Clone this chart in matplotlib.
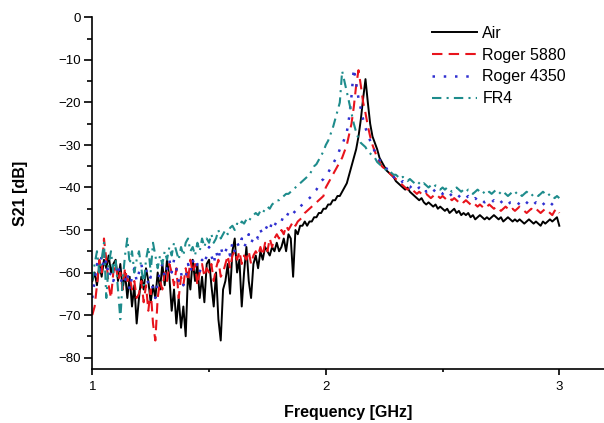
import numpy as np
import matplotlib
matplotlib.use('Agg')
import matplotlib.pyplot as plt
from matplotlib.ticker import MultipleLocator

plt.rcParams['font.family'] = ['Liberation Sans', 'DejaVu Sans']

# frequency grid (GHz), 0.01 step from 1.00 to 3.00
freq = np.round(np.arange(100, 301) / 100.0, 2)

s21_air = [
    -62, -60, -63, -58, -61, -57, -59, -56, -60, -58,
    -57, -62, -58, -64, -60, -66, -61, -68, -63, -72,
    -66, -61, -64, -59, -62, -67, -63, -66, -60, -64,
    -58, -63, -57, -61, -69, -64, -72, -66, -73, -68,
    -75, -60, -64, -57, -62, -58, -66, -61, -67, -58,
    -57, -63, -68, -60, -71, -76, -64, -62, -58, -65,
    -55, -52, -60, -57, -68, -60, -54, -62, -66, -58,
    -56, -59, -55, -57, -54, -55, -56, -54, -55, -53,
    -55, -54, -52, -55, -51, -52, -61, -50, -51, -49,
    -49, -48, -49, -48, -48, -47, -47, -46, -46, -45,
    -45, -44, -44, -43, -43, -42, -42, -41, -40, -39,
    -37, -35, -33, -31, -28, -24, -19, -14.5, -20, -25,
    -28, -29.5, -31, -33, -34, -35, -36, -36.5, -37, -37.5,
    -38.5, -39, -39.5, -40, -40.5, -40, -41, -41.5, -42, -42.5,
    -43, -42.5, -43.5, -44, -43.5, -44, -44.5, -44, -45, -44.5,
    -45, -45.5, -45, -46, -45.5, -45, -46, -45.5, -46.5, -46,
    -46.5, -46, -47, -46.5, -47.5, -47, -46.5, -47, -47.5, -47,
    -47.5, -47, -46.5, -47, -47.5, -47, -48, -47.5, -47, -47.5,
    -48, -47.5, -48, -47.5, -48, -48.5, -48, -47.5, -48, -48.5,
    -48, -48.5, -49, -48, -48.5, -48, -47.5, -48, -47.5, -47,
    -49,
]

s21_r5880 = [
    -70, -68, -63, -57, -60, -52, -57, -63, -66, -60,
    -58, -62, -60, -64, -59, -62, -61, -64, -62, -66,
    -65, -62, -67, -63, -69, -64, -72, -76, -66, -62,
    -64, -60, -62, -58, -60, -63, -59, -66, -61, -63,
    -59, -62, -57, -60, -58, -63, -60, -58, -61, -59,
    -60, -58, -62, -59, -57, -61, -60, -58, -56, -59,
    -56, -55, -57, -55, -58, -56, -57, -55, -58, -56,
    -55, -56, -54, -56, -53, -55, -52, -54, -52, -51,
    -52, -50, -51, -49, -50, -49, -48, -49, -48, -47.5,
    -47, -46, -45.5, -45, -44.5, -44, -43.5, -43, -42.5, -42,
    -40, -39, -38, -37, -36, -35, -34, -33, -31.5, -30,
    -27.5, -25, -21, -16, -12.4, -16, -20, -22.5, -25.5, -28,
    -30, -31.5, -33, -34, -35, -35.5, -36, -36.5, -37, -37.5,
    -38, -38.5, -39, -39.5, -40, -40.5, -40, -40.5, -41, -41.5,
    -41, -41.5, -42, -41.5, -42, -42.5, -42, -41.5, -42, -42.5,
    -42, -42.5, -43, -42.5, -43, -42.5, -43, -43.5, -43, -43.5,
    -43, -43.5, -44, -43.5, -44, -44.5, -44, -44.5, -45, -44.5,
    -44, -44.5, -45, -44.5, -45, -45.5, -45, -44.5, -45, -45.5,
    -45, -45.5, -45, -44.5, -45, -45.5, -46, -45.5, -45, -45.5,
    -45, -45.5, -46, -45.5, -45, -45.5, -46, -46.5, -45.5, -45,
    -46,
]

s21_r4350 = [
    -66, -62, -58, -60, -56, -59, -57, -61, -60, -62,
    -60, -58, -61, -63, -62, -60, -64, -61, -59, -62,
    -60, -58, -61, -59, -63, -61, -64, -66, -62, -60,
    -58, -61, -59, -57, -60, -57, -59, -62, -60, -63,
    -61, -58, -60, -57, -59, -58, -60, -57, -58, -56,
    -54, -56, -58, -55, -57, -54, -56, -55, -54, -56,
    -53, -55, -53, -54, -52, -54, -53, -51, -53, -52,
    -51, -52, -50, -51, -50, -49, -50, -48, -49, -48,
    -47.5, -48, -46.5, -47, -46, -46.5, -45.5, -46, -45, -44.5,
    -44, -43.5, -43, -42.5, -42, -41, -40.5, -39.5, -38.5, -38,
    -37, -36.5, -35.5, -34.5, -33.5, -32.5, -31, -30, -28.5, -27,
    -23.5, -18.5, -12, -15.5, -19, -21.5, -24, -26, -27.5, -29,
    -30.5, -31.5, -32.5, -33.5, -34.5, -35, -35.5, -36.5, -37, -37.5,
    -38, -38.5, -39, -38.5, -39, -39.5, -40, -39.5, -40, -40.5,
    -40, -40.5, -40, -41, -40.5, -41, -40.5, -41, -41.5, -41,
    -41.5, -41, -41.5, -42, -41.5, -42, -41.5, -42, -42.5, -42,
    -42.5, -42, -42.5, -43, -42.5, -43, -42.5, -43, -43.5, -43,
    -43, -43.5, -43, -43.5, -44, -43.5, -43, -43.5, -44, -43.5,
    -43.5, -44, -43.5, -44, -43.5, -43, -43.5, -44, -43.5, -44,
    -43.5, -44, -44.5, -44, -43.5, -44, -43.5, -44, -44.5, -44,
    -44,
]

s21_fr4 = [
    -62, -58, -55, -60, -57, -53, -66, -58, -55, -60,
    -57, -64, -71, -62, -56, -52, -58, -55, -60, -57,
    -55, -59, -63, -57, -54, -60, -53, -56, -59, -56,
    -58, -55, -57, -54, -56, -53, -55, -57, -54, -56,
    -53, -52, -55, -54, -56, -53, -55, -52, -54, -52,
    -53, -51, -53, -52, -50, -52, -51, -50, -51, -49.5,
    -49, -50, -48.5, -49, -48, -48.5, -47.5, -48, -47, -46.5,
    -46, -46.5, -45.5, -46, -45, -44.5, -45, -44, -43.5, -43,
    -43, -42.5, -42, -41.5, -41.5, -41, -40.5, -40, -39.5, -39,
    -38.5, -38, -37.5, -37, -36, -35, -34.5, -33.5, -32.5, -31.5,
    -30, -29, -27.5, -26, -24, -22, -20, -12.6, -15, -17.5,
    -20, -22.5, -25, -27, -28.5, -29.5, -30, -30.5, -31.5, -32,
    -32.5, -33, -34, -34.5, -35, -35.5, -36, -36, -36.5, -37,
    -37, -37.5, -38, -37.5, -38, -38.5, -38, -38.5, -39, -38.5,
    -39, -39.5, -39, -39.5, -40, -39.5, -40, -39.5, -40, -40.5,
    -40, -40.5, -40, -40.5, -41, -40.5, -40, -40.5, -41, -40.5,
    -41, -40.5, -41, -41.5, -41, -40.5, -41, -41.5, -41, -41.5,
    -41, -41.5, -41, -40.5, -41, -41.5, -41, -41.5, -42, -41.5,
    -41, -41.5, -41, -41.5, -42, -41.5, -41, -41.5, -42, -41.5,
    -41.5, -42, -41.5, -41, -41.5, -42, -41.5, -42, -42.5, -42,
    -42.5,
]

labels = ['Air', 'Roger 5880', 'Roger 4350', 'FR4']

fig = plt.figure(figsize=(6.04, 4.23), dpi=100)
ax = fig.add_axes([92.3 / 604, 1 - 369 / 423, (604 - 92.3) / 604, (369 - 17.5) / 423])

ax.plot(freq, s21_air, color='black', lw=1.4, label=labels[0])
ax.plot(freq, s21_r5880, color='#e8141c', lw=1.5, linestyle=(0, (5, 3)), label=labels[1])
ax.plot(freq, s21_r4350, color='#3030d0', lw=1.8, linestyle=(0, (1, 3.5)), label=labels[2])
ax.plot(freq, s21_fr4, color='#1e8c8c', lw=1.5, linestyle=(0, (4.5, 2.5, 1, 2.5)), label=labels[3])

ax.set_xlim(1, 1 + (604 - 92.3) / 233.5)
ax.set_ylim(-(369 - 17.5) / 4.25, 0)

ax.spines['top'].set_visible(False)
ax.spines['right'].set_visible(False)
for s in ['left', 'bottom']:
    ax.spines[s].set_linewidth(1.2)

ax.xaxis.set_major_locator(MultipleLocator(1))
ax.xaxis.set_minor_locator(MultipleLocator(0.5))
ax.yaxis.set_major_locator(MultipleLocator(10))
ax.yaxis.set_minor_locator(MultipleLocator(5))
ax.tick_params(axis='x', which='major', length=4.5, width=1.2, labelsize=9.5, pad=4)
ax.tick_params(axis='x', which='minor', length=2.5, width=1.2)
ax.tick_params(axis='y', which='major', length=6, width=1.2, labelsize=9.5, pad=2)
ax.tick_params(axis='y', which='minor', length=3.5, width=1.2)
ax.set_xticks([1, 2, 3])
ax.set_xticklabels(['1', '2', '3'])

ax.set_xlabel('Frequency [GHz]', fontsize=11.5, fontweight='bold', labelpad=9)
ax.set_ylabel('S21 [dB]', fontsize=11.5, fontweight='bold', labelpad=22)

ax.legend(loc='upper left', bbox_to_anchor=(432 / 604, 1 - 26 / 423),
          bbox_transform=fig.transFigure, frameon=False, fontsize=11.5,
          handlelength=2.8, handletextpad=0.35, labelspacing=0.42,
          borderpad=0, borderaxespad=0)

fig.savefig('out.png', dpi=100)
